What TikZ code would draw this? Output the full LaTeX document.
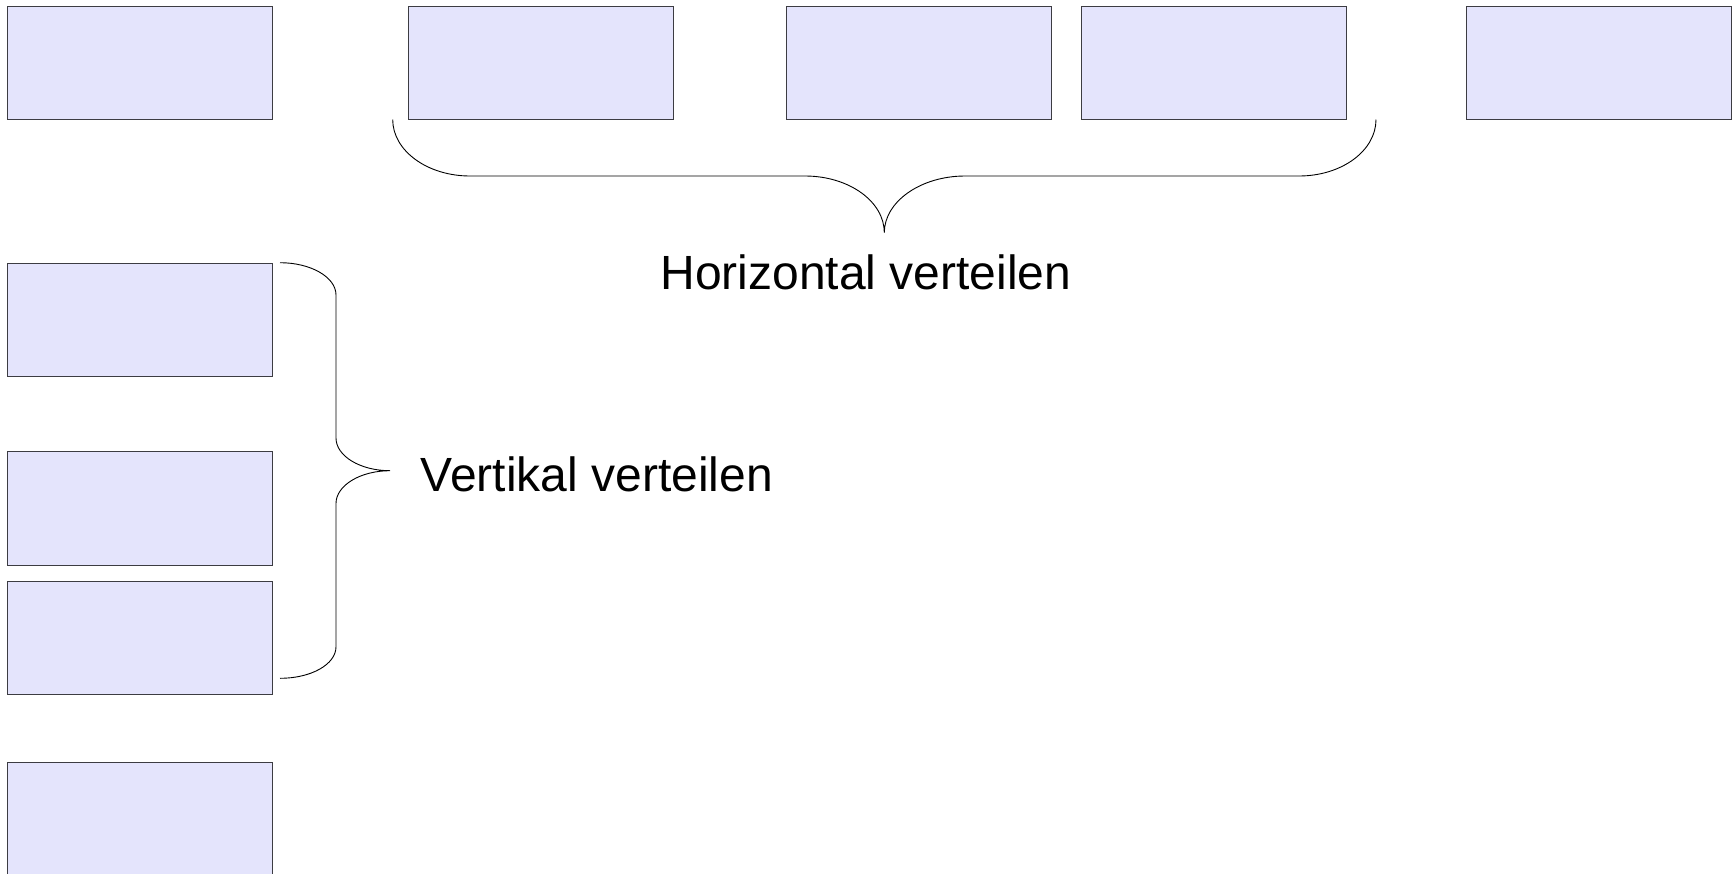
\documentclass[tikz,border=0pt]{standalone}
\usepackage{fontspec}
\setmainfont{Liberation Sans}
\definecolor{boxfill}{RGB}{228,228,252}
\definecolor{boxline}{RGB}{60,60,66}
\tikzset{
  shapebox/.style={draw=boxline, fill=boxfill, line width=1pt, rectangle, inner sep=0pt, anchor=north west, minimum width=265pt, minimum height=113.5pt},
  brace/.style={draw=black, line width=0.9pt},
  label/.style={font=\fontsize{48}{56}\selectfont, inner sep=0pt, anchor=base}
}
\begin{document}
\begin{tikzpicture}[x=1pt,y=-1pt]
\useasboundingbox (0,0) rectangle (1736,873);

% top row
\node[shapebox] (t1) at (7.3,5.7) {};
\node[shapebox] (t2) at (408,5.7) {};
\node[shapebox] (t3) at (786,5.7) {};
\node[shapebox] (t4) at (1081,5.7) {};
\node[shapebox] (t5) at (1466.3,5.7) {};

% left column
\node[shapebox] (l1) at (7.3,262.7) {};
\node[shapebox] (l2) at (7.3,451.3) {};
\node[shapebox] (l3) at (7.3,580.7) {};
\node[shapebox] (l4) at (7.3,761.7) {};

% horizontal brace under the middle boxes
\coordinate (hL) at (392.7,119.5);
\coordinate (hR) at (1376,119.5);
\coordinate (hT) at (884.3,232.7);
\draw[brace] (hL) .. controls (392.7,150.7) and (427.3,176) .. (470,176)
  -- (805,176) .. controls (848.8,176) and (884.3,201.4) .. (hT)
  .. controls (884.3,201.4) and (921,176) .. (965,176)
  -- (1299,176) .. controls (1341.7,176) and (1376,150.7) .. (hR);

% vertical brace beside the upper left column boxes
\coordinate (vT) at (280,262.7);
\coordinate (vB) at (280,678.3);
\coordinate (vM) at (390,470.7);
\draw[brace] (vT) .. controls (310.9,262.7) and (336,277.2) .. (336,295)
  -- (336,438) .. controls (336,456) and (360.2,470.7) .. (vM)
  .. controls (360.2,470.7) and (336,485.5) .. (336,503.5)
  -- (336,646.7) .. controls (336,664.5) and (310.9,678.3) .. (vB);

% labels
\node[label] (hlabel) at (866,289.5) {Horizontal verteilen};
\node[label, anchor=base west] (vlabel) at (420.5,491) {Vertikal verteilen};
\end{tikzpicture}
\end{document}
